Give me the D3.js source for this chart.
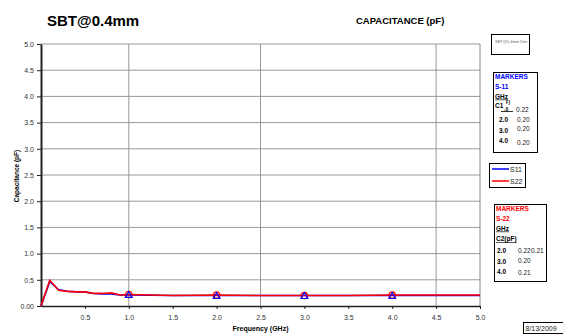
<!DOCTYPE html>
<html>
<head>
<meta charset="utf-8">
<script src="https://cdn.jsdelivr.net/npm/d3@7"></script>
<style>
  body { margin: 0; background: #fff; }
  svg { font-family: "Liberation Sans", Arial, sans-serif; }
  .axis path, .axis line { stroke: #222; }
  .axis text { font-size: 7px; fill: #333; }
</style>
</head>
<body>
<div id="chart"></div>
<script>
// frequency points (GHz) and capacitance (pF)
const freq = [0, 0.1, 0.2, 0.3, 0.4, 0.5, 0.6, 0.7, 0.8, 0.9, 1.0, 1.5, 2.0, 2.5, 3.0, 3.5, 4.0, 4.5, 5.0];
const s11 = [0, 0.47, 0.31, 0.28, 0.27, 0.27, 0.24, 0.23, 0.23, 0.21, 0.21, 0.20, 0.20, 0.20, 0.20, 0.20, 0.20, 0.20, 0.20];
const s22 = [0, 0.49, 0.30, 0.28, 0.27, 0.27, 0.24, 0.24, 0.25, 0.21, 0.22, 0.20, 0.21, 0.20, 0.20, 0.20, 0.21, 0.21, 0.21];
const markerFreq = [1.0, 2.0, 3.0, 4.0];
const s11Markers = [0.22, 0.20, 0.20, 0.20];
const s22Markers = [0.22, 0.21, 0.20, 0.21];
const xTicks = [0.5, 1.0, 1.5, 2.0, 2.5, 3.0, 3.5, 4.0, 4.5, 5.0];
const yTicks = [0, 0.5, 1.0, 1.5, 2.0, 2.5, 3.0, 3.5, 4.0, 4.5, 5.0];
const xGrid = [1.0, 2.5, 4.5];

const width = 563, height = 335;
const margin = {top: 44, right: 83, bottom: 29, left: 41};
const innerW = width - margin.left - margin.right;
const innerH = height - margin.top - margin.bottom;

const svg = d3.select('#chart').append('svg')
  .attr('width', width)
  .attr('height', height);

const x = d3.scaleLinear().domain([0, 5]).range([0, innerW]);
const y = d3.scaleLinear().domain([0, 5]).range([innerH, 0]);

const plot = svg.append('g')
  .attr('transform', 'translate(' + margin.left + ',' + margin.top + ')');

// grid
plot.selectAll('.hgrid')
  .data(yTicks.slice(1))
  .enter().append('line')
    .attr('x1', 0).attr('x2', innerW)
    .attr('y1', d => y(d)).attr('y2', d => y(d))
    .attr('stroke', '#999').attr('stroke-width', 1);

plot.selectAll('.vgrid')
  .data(xGrid)
  .enter().append('line')
    .attr('x1', d => x(d)).attr('x2', d => x(d))
    .attr('y1', 0).attr('y2', innerH)
    .attr('stroke', '#999').attr('stroke-width', 1);

// right border
plot.append('line')
  .attr('x1', innerW).attr('x2', innerW)
  .attr('y1', 0).attr('y2', innerH)
  .attr('stroke', '#888');

// axes
plot.append('g')
  .attr('class', 'axis')
  .attr('transform', 'translate(0,' + innerH + ')')
  .call(d3.axisBottom(x).tickValues(xTicks).tickFormat(d3.format('.1f')).tickSize(3).tickSizeOuter(0))
  .call(g => g.select('.domain').attr('stroke-width', 1.5))
  .call(g => g.selectAll('text').attr('dy', '1.1em'));

plot.append('g')
  .attr('class', 'axis')
  .call(d3.axisLeft(y).tickValues(yTicks).tickFormat(d => d === 0 ? '0.00' : d3.format('.1f')(d)).tickSize(4).tickSizeOuter(0))
  .call(g => g.select('.domain').attr('stroke-width', 2));

// series lines
const line = vals => d3.line()
  .x((d, i) => x(freq[i]))
  .y(d => y(d))(vals);

plot.append('path')
  .attr('d', line(s11))
  .attr('fill', 'none')
  .attr('stroke', '#0000ff')
  .attr('stroke-width', 1.6);

plot.append('path')
  .attr('d', line(s22))
  .attr('fill', 'none')
  .attr('stroke', '#ff0000')
  .attr('stroke-width', 1.6);

// markers
plot.selectAll('.m22')
  .data(s22Markers)
  .enter().append('circle')
    .attr('cx', (d, i) => x(markerFreq[i]))
    .attr('cy', d => y(d))
    .attr('r', 3.2)
    .attr('fill', 'none')
    .attr('stroke', '#ff0000')
    .attr('stroke-width', 1.2);

plot.selectAll('.m11')
  .data(s11Markers)
  .enter().append('path')
    .attr('transform', (d, i) => 'translate(' + x(markerFreq[i]) + ',' + (y(d) + 1) + ')')
    .attr('d', d3.symbol(d3.symbolTriangle, 20))
    .attr('fill', 'none')
    .attr('stroke', '#0000ff')
    .attr('stroke-width', 1.2);

// titles
svg.append('text')
  .attr('x', 47).attr('y', 26)
  .attr('font-size', 15).attr('font-weight', 'bold')
  .text('SBT@0.4mm');

svg.append('text')
  .attr('x', 356).attr('y', 24)
  .attr('font-size', 9.5).attr('font-weight', 'bold')
  .text('CAPACITANCE (pF)');

svg.append('text')
  .attr('x', margin.left + innerW / 2).attr('y', 331)
  .attr('text-anchor', 'middle')
  .attr('font-size', 7).attr('font-weight', 'bold')
  .text('Frequency (GHz)');

svg.append('text')
  .attr('transform', 'translate(19,176) rotate(-90)')
  .attr('text-anchor', 'middle')
  .attr('font-size', 6.5).attr('font-weight', 'bold')
  .text('Capacitance (pF)');

// small box at top right
svg.append('rect')
  .attr('x', 491.5).attr('y', 34.5).attr('width', 38).attr('height', 20)
  .attr('fill', '#fff').attr('stroke', '#000');
svg.append('text')
  .attr('x', 495).attr('y', 43)
  .attr('font-size', 4).attr('fill', '#666')
  .text('SBT@0.4mm Dite');

// legend
const legend = svg.append('g');
legend.append('rect')
  .attr('x', 489.5).attr('y', 163.5).attr('width', 36).attr('height', 24)
  .attr('fill', '#fff').attr('stroke', '#000');
[['S11', '#0000ff', 169], ['S22', '#ff0000', 181]].forEach(([name, col, ly]) => {
  legend.append('line')
    .attr('x1', 492).attr('x2', 509).attr('y1', ly).attr('y2', ly)
    .attr('stroke', col).attr('stroke-width', 1.5);
  legend.append('text')
    .attr('x', 510).attr('y', ly + 2.5)
    .attr('font-size', 7).attr('fill', '#222')
    .text(name);
});

// marker tables
function markerBox(bx, by, bw, bh, col, title, rows, cap) {
  const g = svg.append('g');
  g.append('rect')
    .attr('x', bx + 0.5).attr('y', by + 0.5).attr('width', bw).attr('height', bh)
    .attr('fill', '#fff').attr('stroke', '#000');
  g.append('text').attr('x', bx + 2).attr('y', by + 7)
    .attr('font-size', 6.5).attr('font-weight', 'bold').attr('fill', col).text('MARKERS');
  g.append('text').attr('x', bx + 2).attr('y', by + 16.5)
    .attr('font-size', 6.5).attr('font-weight', 'bold').attr('fill', col).text(title);
  g.append('text').attr('x', bx + 2).attr('y', by + 26.5)
    .attr('font-size', 6.5).attr('font-weight', 'bold').attr('fill', '#000')
    .attr('text-decoration', 'underline').text('GHz');
  cap(g);
  rows.forEach(r => {
    g.append('text').attr('x', bx + r.lx).attr('y', r.y)
      .attr('font-size', 6.5).attr('font-weight', 'bold').attr('fill', '#000').text(r.f);
    g.append('text').attr('x', bx + r.vx).attr('y', r.vy)
      .attr('font-size', 6.5).attr('fill', '#222').text(r.v);
  });
}

markerBox(493, 72, 44, 80, '#0000ff', 'S-11', [
  {f: '2.0', y: 122, lx: 6, v: d3.format('.2f')(s11Markers[1]), vx: 24, vy: 122},
  {f: '3.0', y: 133, lx: 6, v: d3.format('.2f')(s11Markers[2]), vx: 24, vy: 131},
  {f: '4.0', y: 143, lx: 6, v: d3.format('.2f')(s11Markers[3]), vx: 24, vy: 145}
], g => {
  g.append('text').attr('x', 495).attr('y', 108)
    .attr('font-size', 6.5).attr('font-weight', 'bold').text('C1');
  g.append('text').attr('x', 506).attr('y', 104)
    .attr('font-size', 4.5).attr('font-weight', 'bold').text('F)');
  g.append('text').attr('x', 504).attr('y', 111)
    .attr('font-size', 5).attr('font-weight', 'bold').text('.0');
  g.append('line').attr('x1', 501).attr('x2', 513).attr('y1', 111.5).attr('y2', 111.5)
    .attr('stroke', '#000').attr('stroke-width', 0.8);
  g.append('text').attr('x', 516).attr('y', 112)
    .attr('font-size', 6.5).attr('fill', '#222').text(d3.format('.2f')(s11Markers[0]));
});

markerBox(494, 204, 52, 77, '#ff0000', 'S-22', [
  {f: '2.0', y: 253, lx: 3, v: d3.format('.2f')(s22Markers[0]), vx: 24, vy: 253},
  {f: '3.0', y: 264, lx: 3, v: d3.format('.2f')(s22Markers[2]), vx: 24, vy: 263},
  {f: '4.0', y: 274, lx: 3, v: d3.format('.2f')(s22Markers[3]), vx: 24, vy: 275}
], g => {
  g.append('text').attr('x', 496).attr('y', 241)
    .attr('font-size', 6.5).attr('font-weight', 'bold')
    .attr('text-decoration', 'underline').text('C2(pF)');
  g.append('text').attr('x', 531).attr('y', 253)
    .attr('font-size', 6.5).attr('fill', '#222').text(d3.format('.2f')(s22Markers[1]));
});

// date stamp
svg.append('rect')
  .attr('x', 523.5).attr('y', 322.5).attr('width', 40).attr('height', 11)
  .attr('fill', '#fff').attr('stroke', '#000');
svg.append('text')
  .attr('x', 525.5).attr('y', 331)
  .attr('font-size', 7).attr('fill', '#222')
  .text('8/13/2009');
</script>
</body>
</html>
